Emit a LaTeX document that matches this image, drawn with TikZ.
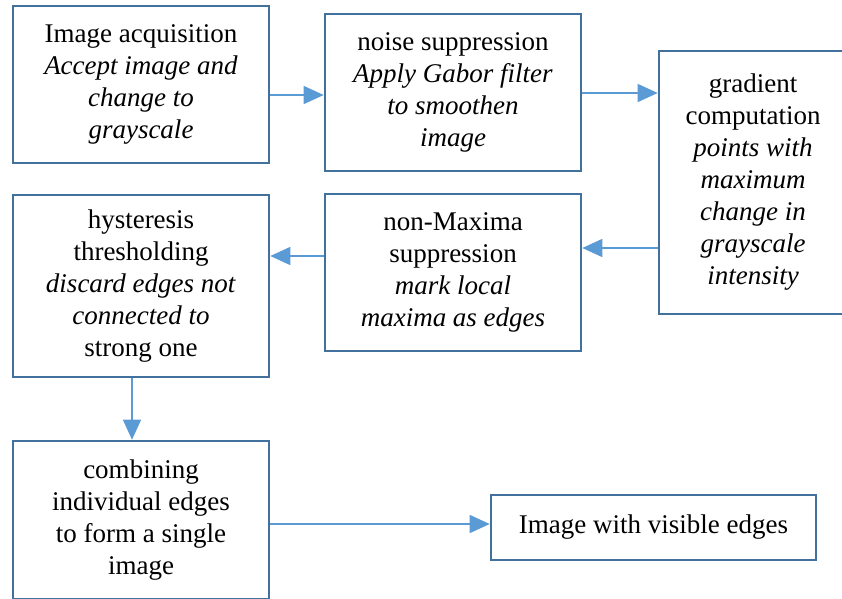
\documentclass[tikz,border=0pt]{standalone}
\usepackage{fontspec}
\setmainfont{Liberation Serif}
\usetikzlibrary{arrows.meta}
\definecolor{boxblue}{HTML}{41719C}
\definecolor{arrowblue}{HTML}{5B9BD5}

\begin{document}
\begin{tikzpicture}[x=1pt, y=-1pt,
    stage/.style={rectangle, draw=boxblue, line width=2.6pt, align=center,
        font=\fontsize{27}{32}\selectfont, inner sep=0pt},
    flow/.style={draw=arrowblue, line width=1.4pt,
        -{Triangle[length=20pt, width=18pt]}}]
    \useasboundingbox (0,0) rectangle (842,598);

    % Top row
    \node[stage, minimum width=256pt, minimum height=157pt] (acq) at (141,84.5)
        {Image acquisition\\ \textit{Accept image and}\\ \textit{change to}\\ \textit{grayscale}};
    \node[stage, minimum width=256pt, minimum height=157pt] (noise) at (453,92.5)
        {noise suppression\\ \textit{Apply Gabor filter}\\ \textit{to smoothen}\\ \textit{image}};
    \node[stage, minimum width=188pt, minimum height=263pt] (grad) at (753,182.5)
        {gradient\\ computation\\ \textit{points with}\\ \textit{maximum}\\ \textit{change in}\\ \textit{grayscale}\\ \textit{intensity}};

    % Middle row
    \node[stage, minimum width=256pt, minimum height=157pt] (nms) at (453,272.5)
        {non-Maxima\\ suppression\\ \textit{mark local}\\ \textit{maxima as edges}};
    \node[stage, minimum width=256pt, minimum height=182pt] (hyst) at (141,286)
        {hysteresis\\ thresholding\\ \textit{discard edges not}\\ \textit{connected to}\\ strong one};

    % Bottom row
    \node[stage, minimum width=256pt, minimum height=158pt] (comb) at (141,520)
        {combining\\ individual edges\\ to form a single\\ image};
    \node[stage, minimum width=325pt, minimum height=65pt] (result) at (653.5,527.5)
        {Image with visible edges};

    \draw[flow] (acq.east |- 0,95) -- (noise.west |- 0,95);
    \draw[flow] (noise.east |- 0,93) -- (grad.west |- 0,93);
    \draw[flow] (grad.west |- 0,248) -- (nms.east |- 0,248);
    \draw[flow] (nms.west |- 0,256) -- (hyst.east |- 0,256);
    \draw[flow] (hyst.south -| 132,0) -- (comb.north -| 132,0);
    \draw[flow] (comb.east |- 0,524) -- (result.west |- 0,524);
\end{tikzpicture}
\end{document}
